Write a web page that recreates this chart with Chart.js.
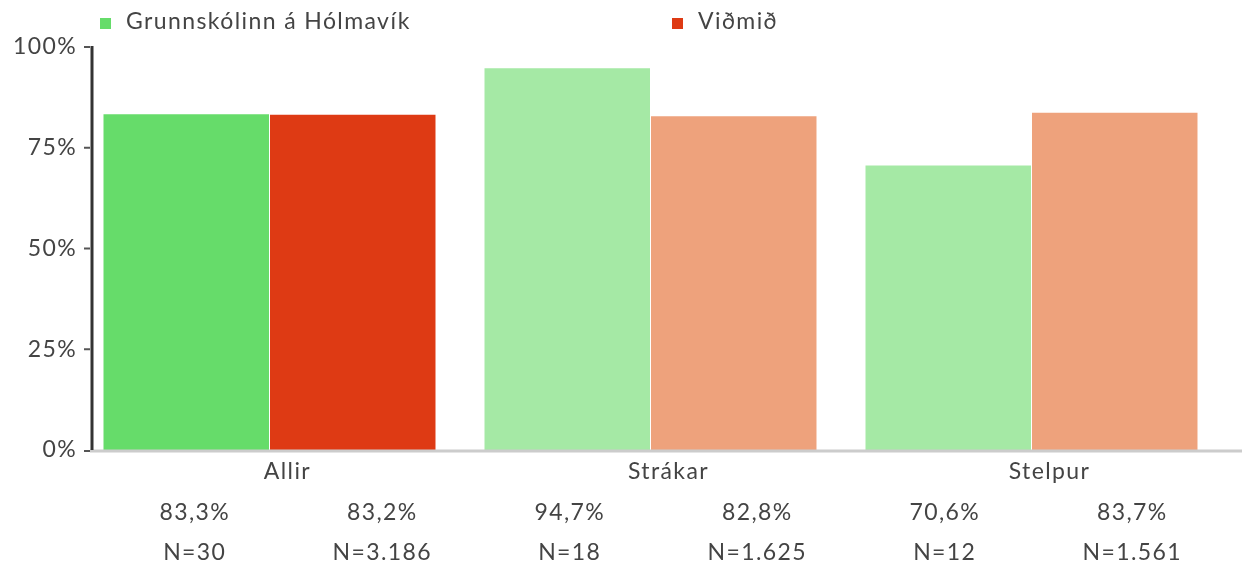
<!DOCTYPE html>
<html>
<head>
<meta charset="utf-8">
<script src="https://cdn.jsdelivr.net/npm/chart.js@4"></script>
<style>
  body { margin: 0; background: #fff; }
  .wrap { width: 1242px; height: 565px; position: relative; }
</style>
</head>
<body>
<div class="wrap"><canvas id="barChart"></canvas></div>
<script>
// data
const categories = ['Allir', 'Strákar', 'Stelpur'];
const seriesNames = ['Grunnskólinn á Hólmavík', 'Viðmið'];
const schoolValues = [83.3, 94.7, 70.6];
const benchmarkValues = [83.2, 82.8, 83.7];
const schoolCounts = [30, 18, 12];
const benchmarkCounts = [3186, 1625, 1561];
const yTicks = [0, 25, 50, 75, 100];

// style
const FONT = 'Lato, "Noto Sans", sans-serif';
const TEXT_COLOR = '#444';
const legendColors = ['#66DC6A', '#DE3A14'];
const axisX = 92;

function $(selector) {
  return document.querySelector(selector);
}
function pctFormatter(v) {
  return v.toFixed(1).replace('.', ',') + '%';
}
function countFormatter(n) {
  return 'N=' + String(n).replace(/\B(?=(\d{3})+(?!\d))/g, '.');
}

// wider text, closer to the original font
const spacingPlugin = {
  id: 'spacing',
  beforeDraw(chart) {
    chart.ctx.letterSpacing = '1.4px';
  }
};

// custom axis lines, legend and value labels
const decorPlugin = {
  id: 'decor',
  afterDatasetsDraw(chart) {
    const { ctx, scales } = chart;
    const y = scales.y;
    const zeroY = y.getPixelForValue(0);
    ctx.save();
    // gray base line
    ctx.strokeStyle = '#cccccc';
    ctx.lineWidth = 3;
    ctx.beginPath();
    ctx.moveTo(axisX - 2, zeroY + 1);
    ctx.lineTo(chart.width, zeroY + 1);
    ctx.stroke();
    // y axis line
    ctx.strokeStyle = '#333';
    ctx.lineWidth = 3;
    ctx.beginPath();
    ctx.moveTo(axisX, y.getPixelForValue(100) - 1);
    ctx.lineTo(axisX, zeroY);
    ctx.stroke();
    // tick dashes
    ctx.strokeStyle = '#555';
    ctx.lineWidth = 2;
    yTicks.forEach(t => {
      const ty = y.getPixelForValue(t) + (t === 0 ? 1 : 0);
      ctx.beginPath();
      ctx.moveTo(axisX - 8, ty);
      ctx.lineTo(axisX - 2, ty);
      ctx.stroke();
    });
    // legend
    ctx.font = '23px ' + FONT;
    ctx.letterSpacing = '1.4px';
    ctx.fillStyle = TEXT_COLOR;
    ctx.textBaseline = 'alphabetic';
    const legendX = [100, 672];
    seriesNames.forEach((name, i) => {
      ctx.fillStyle = legendColors[i];
      ctx.fillRect(legendX[i], 18, 11, 11);
      ctx.fillStyle = TEXT_COLOR;
      ctx.textAlign = 'left';
      ctx.fillText(name, legendX[i] + 26, 29);
    });
    // value labels under each bar
    const gridLeft = axisX + 9;
    const step = 187.5;
    ctx.textAlign = 'center';
    categories.forEach((c, i) => {
      const cols = [
        [schoolValues[i], schoolCounts[i]],
        [benchmarkValues[i], benchmarkCounts[i]],
      ];
      cols.forEach(([v, n], j) => {
        const cx = gridLeft + (i * 2 + j + 0.5) * step;
        ctx.fillText(pctFormatter(v), cx, 520);
        ctx.fillText(countFormatter(n), cx, 560);
      });
    });
    ctx.restore();
  }
};

function startApp() {
  const ctx = $('#barChart').getContext('2d');
  Chart.defaults.font.family = FONT;
  Chart.defaults.color = TEXT_COLOR;
  new Chart(ctx, {
    type: 'bar',
    data: {
      labels: categories,
      datasets: [
        {
          label: seriesNames[0],
          data: schoolValues,
          backgroundColor: ['#66DC6A', '#A5E9A5', '#A5E9A5'],
        },
        {
          label: seriesNames[1],
          data: benchmarkValues,
          backgroundColor: ['#DE3A14', '#EEA27C', '#EEA27C'],
        },
      ],
    },
    options: {
      responsive: true,
      maintainAspectRatio: false,
      animation: false,
      categoryPercentage: 0.874,
      barPercentage: 0.994,
      layout: { padding: { top: 47, right: 20, left: 0, bottom: 0 } },
      plugins: {
        legend: { display: false },
        tooltip: { enabled: false },
      },
      scales: {
        x: {
          offset: true,
          grid: { display: false, drawTicks: false },
          border: { display: false },
          ticks: { font: { size: 23 }, padding: 8, labelOffset: 18, maxRotation: 0 },
          afterFit(scale) { scale.height = 115; },
        },
        y: {
          min: 0,
          max: 100,
          grid: { display: false, drawTicks: false },
          border: { display: false },
          ticks: {
            stepSize: 25,
            padding: 2,
            font: { size: 23 },
            callback: v => v + '%',
          },
          afterFit(scale) { scale.width = 79; },
        },
      },
    },
    plugins: [spacingPlugin, decorPlugin],
  });
}

startApp();
</script>
</body>
</html>
